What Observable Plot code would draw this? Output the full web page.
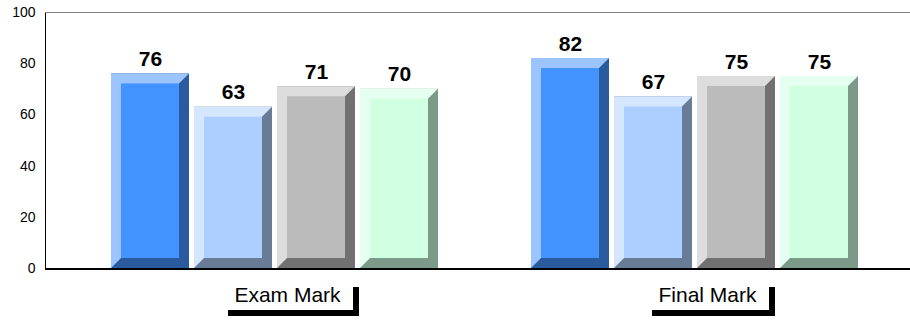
<!DOCTYPE html>
<html>
<head>
<meta charset="utf-8">
<script src="https://cdn.jsdelivr.net/npm/d3@7"></script>
<script src="https://cdn.jsdelivr.net/npm/@observablehq/plot@0.6"></script>
<style>
  html, body { margin: 0; padding: 0; background: #fff; }
  #chart { width: 910px; height: 320px; }
</style>
</head>
<body>
<div id="chart"></div>
<script>
// ---- data ----
const groups = ["Exam Mark", "Final Mark"];
const series = ["Series 1", "Series 2", "Series 3", "Series 4"];
const examValues = [76, 63, 71, 70];
const finalValues = [82, 67, 75, 75];
const yTicks = [0, 20, 40, 60, 80, 100];

// ---- styles (per series) ----
const faceColors = ["#4292ff", "#adcfff", "#bbbbbb", "#d0ffe2"];
const lightColors = ["#9cc5ff", "#d5e6ff", "#dddddd", "#e5fff0"];
const darkColors = ["#2a5b9e", "#687c98", "#717171", "#7b9a87"];

const rows = [];
groups.forEach((g, gi) => {
  const vals = gi === 0 ? examValues : finalValues;
  series.forEach((s, si) => rows.push({group: g, series: s, si, value: vals[si]}));
});

const BEVEL = 10;

const chart = Plot.plot({
  width: 910,
  height: 320,
  marginTop: 12,
  marginBottom: 52,
  marginLeft: 45,
  marginRight: 0,
  style: {fontFamily: "'Liberation Sans', Arial, sans-serif", fontSize: "14px", background: "#fff", color: "#000"},
  fx: {domain: groups, range: [45, 885], padding: 0, axis: null, label: null},
  x: {domain: series, paddingInner: 0.0595, paddingOuter: 0.53, align: 0.708, axis: null, label: null},
  y: {domain: [0, 100], ticks: yTicks, tickSize: 0, tickPadding: 10, label: null, line: true},
  marks: [
    Plot.ruleY([100], {stroke: "#808080", strokeWidth: 1, insetRight: -25, shapeRendering: "crispEdges"}),
    Plot.barY(rows, {fx: "group", x: "series", y: "value", fill: d => darkColors[d.si]}),
    Plot.barY(rows, {fx: "group", x: "series", y: "value", fill: d => lightColors[d.si], className: "bevel-light"}),
    Plot.barY(rows, {fx: "group", x: "series", y: "value", fill: d => faceColors[d.si],
      insetTop: BEVEL, insetBottom: BEVEL, insetLeft: BEVEL, insetRight: BEVEL}),
    Plot.ruleY([0], {stroke: "#000", strokeWidth: 2, dy: 0.5, insetRight: -25, shapeRendering: "crispEdges"}),
    Plot.text(rows, {fx: "group", x: "series", y: "value", text: d => String(d.value),
      dy: -8, lineAnchor: "bottom", fontWeight: "bold", fontSize: 21, fill: "#000"}),
    Plot.text(groups, {fx: d => d, text: d => d, frameAnchor: "bottom", dy: 33, dx: 32,
      fontSize: 21, fill: "#000", className: "cat-label"})
  ]
});

document.getElementById("chart").append(chart);

// ---- decoration: bevel polygons & label boxes ----
const ns = "http://www.w3.org/2000/svg";
const root = chart.tagName.toLowerCase() === "svg" ? chart : chart.querySelector("svg");
root.querySelectorAll("g.bevel-light rect").forEach(r => {
  const x = +r.getAttribute("x"), y = +r.getAttribute("y");
  const w = +r.getAttribute("width"), h = +r.getAttribute("height");
  const b = BEVEL;
  const p = document.createElementNS(ns, "polygon");
  p.setAttribute("points", [[x, y], [x + w, y], [x + w - b, y + b], [x + b, y + h - b], [x, y + h]].map(q => q.join(",")).join(" "));
  p.setAttribute("fill", r.getAttribute("fill"));
  r.replaceWith(p);
});
root.querySelectorAll("g.cat-label text").forEach(t => {
  const bb = t.getBBox();
  const tr = t.getAttribute("transform");
  const padX = 12, padTop = 2, padBottom = 4, off = 6;
  const mk = (dx, dy, fill) => {
    const r = document.createElementNS(ns, "rect");
    r.setAttribute("x", bb.x - padX + dx);
    r.setAttribute("y", bb.y - padTop + dy);
    r.setAttribute("width", bb.width + 2 * padX);
    r.setAttribute("height", bb.height + padTop + padBottom);
    r.setAttribute("fill", fill);
    r.setAttribute("shape-rendering", "crispEdges");
    if (tr) r.setAttribute("transform", tr);
    return r;
  };
  t.parentNode.insertBefore(mk(off, off, "#000"), t);
  t.parentNode.insertBefore(mk(0, 0, "#fff"), t);
});
</script>
</body>
</html>
